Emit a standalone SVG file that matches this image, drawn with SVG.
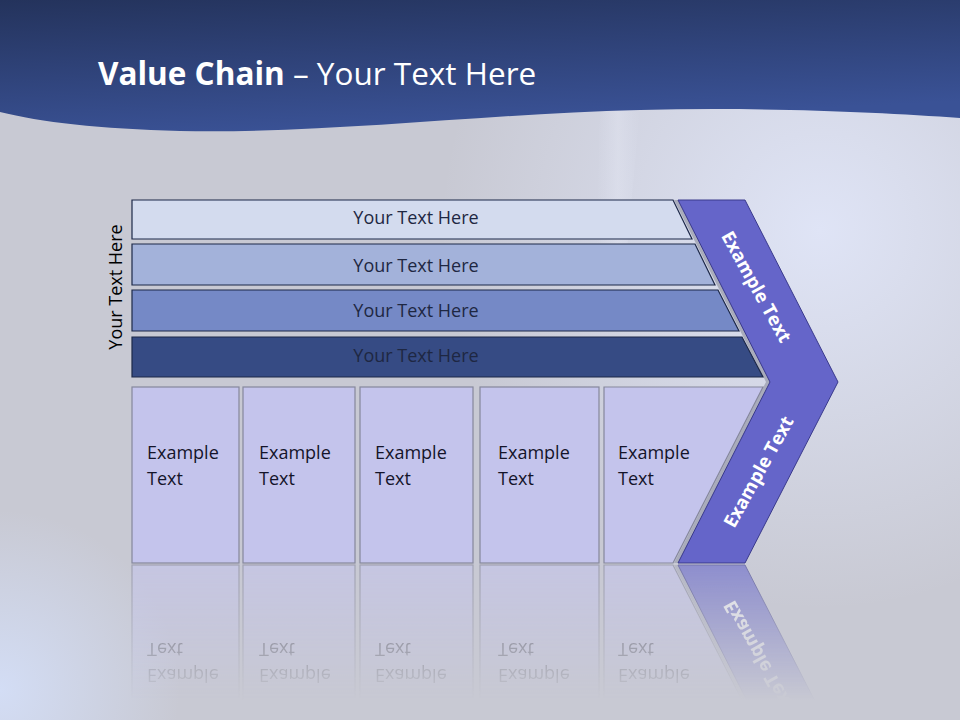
<svg xmlns="http://www.w3.org/2000/svg" xmlns:xlink="http://www.w3.org/1999/xlink" width="960" height="720" viewBox="0 0 960 720">
<defs>
<style>
.bar{stroke:#1d2848;stroke-width:1.2}
.bt{font-family:"Open Sans","DejaVu Sans",sans-serif;font-size:18px;fill:#1e2742;text-anchor:middle}
.box{fill:#c4c4ec;stroke:#85879c;stroke-width:1.2}
.xt{font-family:"Open Sans","DejaVu Sans",sans-serif;font-size:18px;fill:#14142a}
.ct{font-family:"Open Sans","DejaVu Sans",sans-serif;font-size:18.5px;font-weight:bold;fill:#ffffff;text-anchor:middle}
</style>
<linearGradient id="hdr" x1="0" y1="0" x2="0.35" y2="1">
<stop offset="0" stop-color="#24335c"/>
<stop offset="1" stop-color="#3a5296"/>
</linearGradient>
<radialGradient id="glowTR" cx="820" cy="230" r="380" gradientUnits="userSpaceOnUse">
<stop offset="0" stop-color="#dfe4f6"/>
<stop offset="1" stop-color="#dfe4f6" stop-opacity="0"/>
</radialGradient>
<radialGradient id="glowBL" cx="0" cy="690" r="180" gradientUnits="userSpaceOnUse">
<stop offset="0" stop-color="#d3ddf5"/>
<stop offset="1" stop-color="#d3ddf5" stop-opacity="0"/>
</radialGradient>
<linearGradient id="streak" x1="0" y1="0" x2="1" y2="0">
<stop offset="0" stop-color="#e8ecfb" stop-opacity="0"/>
<stop offset="0.5" stop-color="#eef1fc" stop-opacity="0.8"/>
<stop offset="1" stop-color="#e8ecfb" stop-opacity="0"/>
</linearGradient>
<linearGradient id="fadeGrad" x1="0" y1="564" x2="0" y2="700" gradientUnits="userSpaceOnUse">
<stop offset="0" stop-color="#ffffff" stop-opacity="0.6"/>
<stop offset="1" stop-color="#ffffff" stop-opacity="0"/>
</linearGradient>
<mask id="fade" maskUnits="userSpaceOnUse" x="0" y="564" width="960" height="156">
<rect x="0" y="564" width="960" height="156" fill="url(#fadeGrad)"/>
</mask>
</defs>

<g id="background">
<rect width="960" height="720" fill="#c8c9d3"/>
<rect width="960" height="720" fill="url(#glowTR)"/>
<rect width="960" height="720" fill="url(#glowBL)"/>
<path d="M600,110 L640,110 L626,260 L596,260 Z" fill="url(#streak)" opacity="0.35"/>
<path d="M0,0 H960 V118 C880,112 760,107 640,110 C480,114 330,134 180,131 C100,129 40,122 0,112 Z" fill="url(#hdr)"/>
</g>

<g id="title">
<text x="98" y="85" font-family="'Open Sans','DejaVu Sans',sans-serif" font-size="31.5" fill="#ffffff"><tspan font-weight="bold">Value Chain</tspan> – Your Text Here</text>
</g>

<g id="side-label">
<text x="116" y="287" transform="rotate(-90 116 287)" dy="6" class="bt" style="fill:#000000">Your Text Here</text>
</g>

<g id="chevron">
<polygon points="674,200 741,200 834,382 741,563 674,563 766,382" fill="#a9acbb"/>
<polygon points="678,200 745,200 838,382 745,563 678,563 770,382" fill="#6565c9" stroke="#3a3a8c" stroke-width="1"/>
<text class="ct" x="756" y="287" dy="6" transform="rotate(61 756 287)">Example Text</text>
<text class="ct" x="759" y="472" dy="6" transform="rotate(-61 759 472)">Example Text</text>
</g>

<g id="bar1">
<polygon class="bar" points="132,200 673,200 692,239 132,239" fill="#d3dbee"/>
<text class="bt" x="416" y="224">Your Text Here</text>
</g>
<g id="bar2">
<polygon class="bar" points="132,244 695,244 715,285 132,285" fill="#a3b2da"/>
<text class="bt" x="416" y="272">Your Text Here</text>
</g>
<g id="bar3">
<polygon class="bar" points="132,290 718,290 739,331 132,331" fill="#7589c6"/>
<text class="bt" x="416" y="317">Your Text Here</text>
</g>
<g id="bar4">
<polygon class="bar" points="132,337 742,337 763,377 132,377" fill="#364b84"/>
<text class="bt" x="416" y="362">Your Text Here</text>
</g>

<g id="boxes">
<g id="box1"><rect class="box" x="132" y="387" width="107" height="176"/><text class="xt" x="147" y="459">Example</text><text class="xt" x="147" y="485">Text</text></g>
<g id="box2"><rect class="box" x="243" y="387" width="112" height="176"/><text class="xt" x="259" y="459">Example</text><text class="xt" x="259" y="485">Text</text></g>
<g id="box3"><rect class="box" x="360" y="387" width="113" height="176"/><text class="xt" x="375" y="459">Example</text><text class="xt" x="375" y="485">Text</text></g>
<g id="box4"><rect class="box" x="480" y="387" width="119" height="176"/><text class="xt" x="498" y="459">Example</text><text class="xt" x="498" y="485">Text</text></g>
<g id="box5"><polygon class="box" points="604,387 763,387 673,563 604,563"/><text class="xt" x="618" y="459">Example</text><text class="xt" x="618" y="485">Text</text></g>
</g>

<g id="reflection" mask="url(#fade)">
<g transform="translate(0,1128) scale(1,-1)">
<use xlink:href="#boxes"/>
<polygon points="674,200 741,200 834,382 741,563 674,563 766,382" fill="#a9acbb"/>
<polygon points="678,200 745,200 838,382 745,563 678,563 770,382" fill="#6565c9" stroke="#3a3a8c" stroke-width="1"/>
<text class="ct" x="759" y="472" dy="6" transform="rotate(-61 759 472)">Example Text</text>
</g>
</g>

<g id="connectors"/>
</svg>
